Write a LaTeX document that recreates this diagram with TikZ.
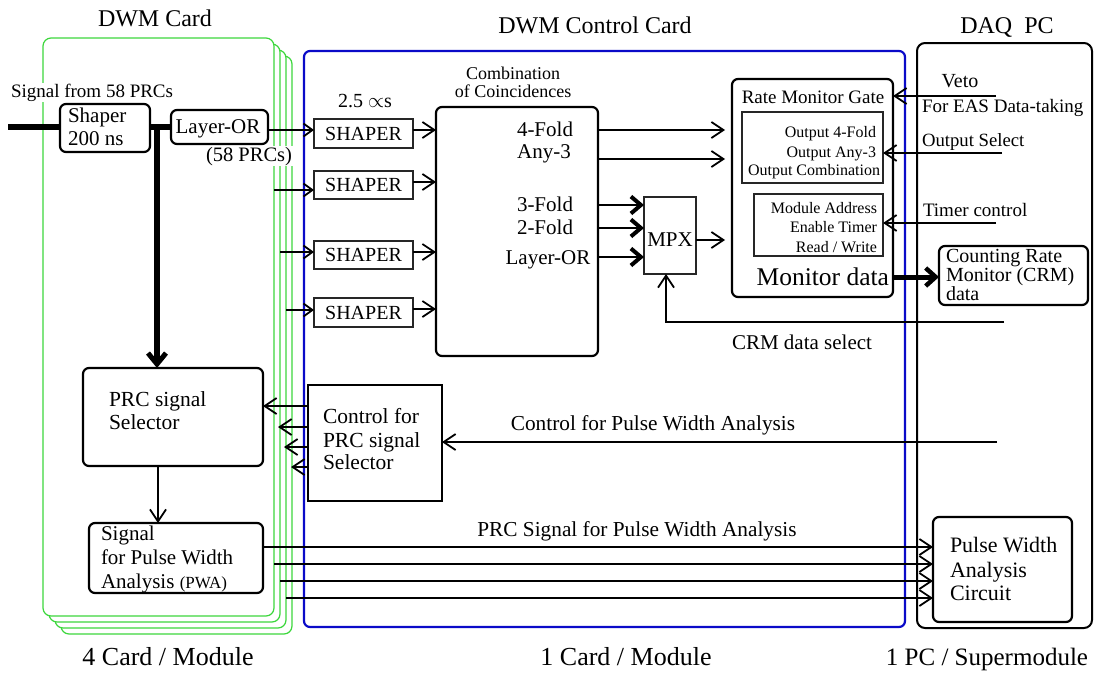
\documentclass[tikz,border=0pt]{standalone}
\usepackage{fontspec}
\setmainfont{Liberation Serif}
\usetikzlibrary{arrows.meta}
\definecolor{cardgreen}{RGB}{60,215,60}
\definecolor{ctlblue}{RGB}{10,10,200}
\newcommand\fsz[1]{\fontsize{#1}{#1}\selectfont}
% box macro: name, x1, y1, x2, y2, style
\newcommand\boxat[6]{\node[#6, anchor=north west, inner sep=0pt, outer sep=0pt,
  minimum width={#4-#2}, minimum height={#5-#3}] (#1) at (#2,#3) {};}
\tikzset{
  card/.style={draw=cardgreen, line width=1.2pt, fill=white, rounded corners=8pt},
  rbox/.style={draw=black, line width=2.2pt, rounded corners=6pt},
  sbox/.style={draw=black!85, line width=1.2pt},
  lbl/.style={inner sep=0pt, outer sep=0pt},
  ln/.style={line width=1.7pt},
  arr/.style={ln, -{Straight Barb[length=12pt,width=16pt,line width=1.8pt]}},
  sarr/.style={ln, -{Straight Barb[length=9pt,width=13pt,line width=1.8pt]}},
  tarr/.style={line width=2pt, -{Straight Barb[length=10pt,width=17pt,line width=4pt]}},
}
\begin{document}
\begin{tikzpicture}[x=1pt,y=-1pt]
\useasboundingbox (0,0) rectangle (1094,672);
% ---------- green DWM cards (stack) ----------
\boxat{card4}{61}{56}{292}{634}{card}
\boxat{card3}{55}{50}{286}{628}{card}
\boxat{card2}{49}{44}{280}{622}{card}
\boxat{card1}{43}{38}{274}{616}{card}
% ---------- blue control card ----------
\boxat{ctl}{304}{51}{905}{627}{draw=ctlblue, line width=2.2pt, rounded corners=6pt}
% ---------- DAQ PC ----------
\boxat{daq}{917}{43}{1092}{628}{draw=black, line width=2pt, rounded corners=8pt}
% ---------- titles ----------
\node[lbl, anchor=base, font=\fsz{24}] (tcard) at (155,26) {DWM Card};
\node[lbl, anchor=base, font=\fsz{24}] (tctl) at (595,33) {DWM Control Card};
\node[lbl, anchor=base, font=\fsz{24}] (tdaq) at (1007,33) {DAQ\ \ PC};
\node[lbl, anchor=base, font=\fsz{26}] (bcard) at (168,665) {4 Card / Module};
\node[lbl, anchor=base, font=\fsz{26}] (bctl) at (626,665) {1 Card / Module};
\node[lbl, anchor=base, font=\fsz{25}] (bdaq) at (987,665) {1 PC / Supermodule};
% ---------- DWM card contents ----------
\node[lbl, anchor=base west, font=\fsz{19}, fill=white, inner sep=1pt] (tsig) at (10,97) {Signal from 58 PRCs};
\coordinate (inL) at (8,127);
\draw[line width=6.5pt] (inL) -- (60,127);
\boxat{shp}{60}{104}{150}{152}{rbox, fill=white}
\node[lbl, anchor=base west, font=\fsz{21}] (tshp1) at (68,122) {Shaper};
\node[lbl, anchor=base west, font=\fsz{21}] (tshp2) at (68,145) {200 ns};
\boxat{lor}{171}{110}{268}{144}{rbox}
\node[lbl, anchor=base, font=\fsz{21}] (tlor) at (218,133) {Layer-OR};
\draw[line width=6.5pt] (shp.east |- 0,127) -- (lor.west |- 0,127);
\node[lbl, anchor=base, font=\fsz{20.5}, fill=white, inner sep=1pt] (t58) at (249,161) {(58 PRCs)};
\coordinate (jn) at (157,124);
\boxat{sel}{83}{368}{263}{466}{rbox}
\draw[line width=6pt, -{Straight Barb[length=11pt,width=18pt,line width=5pt]}] (jn) -- (jn |- sel.north);
\node[lbl, anchor=base west, font=\fsz{21.5}] (tsel1) at (109,406) {PRC signal};
\node[lbl, anchor=base west, font=\fsz{21.5}] (tsel2) at (109,429) {Selector};
\boxat{sig}{89}{523}{263}{593}{rbox}
\node[lbl, anchor=base west, font=\fsz{21}] (tsig1) at (101,540) {Signal};
\node[lbl, anchor=base west, font=\fsz{21}] (tsig2) at (101,564) {for Pulse Width};
\node[lbl, anchor=base west, font=\fsz{21}] (tsig3) at (101,588) {Analysis {\fsz{17}(PWA)}};
\draw[arr] (sel.south -| 158,0) -- (sig.north -| 158,0);
% ---------- control card contents ----------
\node[lbl, anchor=base west, font=\fsz{20}] (tmu) at (338,107) {2.5 $\propto$s};
\boxat{S1}{314}{119}{413}{148}{sbox}
\boxat{S2}{314}{171}{413}{199}{sbox}
\boxat{S3}{314}{241}{413}{269}{sbox}
\boxat{S4}{314}{298}{413}{327}{sbox}
\foreach \s in {S1,S2,S3,S4}{\node[lbl, font=\fsz{20}] (t\s) at (\s) {SHAPER};}
\boxat{comb}{436}{107}{598}{356}{rbox}
\node[lbl, anchor=base, font=\fsz{18}] (tcomb1) at (513,79) {Combination};
\node[lbl, anchor=base, font=\fsz{18}] (tcomb2) at (513,97) {of Coincidences};
\node[lbl, anchor=base, font=\fsz{21}] (tf4) at (545,136) {4-Fold};
\node[lbl, anchor=base, font=\fsz{21}] (ta3) at (544,158) {Any-3};
\node[lbl, anchor=base, font=\fsz{21}] (tf3) at (545,211) {3-Fold};
\node[lbl, anchor=base, font=\fsz{21}] (tf2) at (545,234) {2-Fold};
\node[lbl, anchor=base, font=\fsz{21}] (tlo) at (548,264) {Layer-OR};
\boxat{mpx}{644}{197}{696}{274}{sbox}
\node[lbl, anchor=base, font=\fsz{21}] (tmpx) at (670,246) {MPX};
% rate monitor gate
\boxat{rmg}{732}{79}{893}{297}{rbox}
\node[lbl, anchor=base, font=\fsz{19}] (trmg) at (813,103) {Rate Monitor Gate};
\boxat{in1}{742}{112}{883}{183}{sbox}
\node[lbl, anchor=base east, font=\fsz{16}] (to1) at (876,137) {Output 4-Fold};
\node[lbl, anchor=base east, font=\fsz{16}] (to2) at (876,157) {Output Any-3};
\node[lbl, anchor=base east, font=\fsz{16}] (to3) at (880,175) {Output Combination};
\boxat{in2}{754}{194}{883}{256}{sbox}
\node[lbl, anchor=base east, font=\fsz{16}] (tm1) at (877,213) {Module Address};
\node[lbl, anchor=base east, font=\fsz{16}] (tm2) at (877,232) {Enable Timer};
\node[lbl, anchor=base east, font=\fsz{16}] (tm3) at (877,252) {Read / Write};
\node[lbl, anchor=base east, font=\fsz{25.5}] (tmd) at (889,285) {Monitor data};
% control for PRC selector
\boxat{ctrl}{308}{385}{442}{501}{draw=black, line width=2pt}
\node[lbl, anchor=base west, font=\fsz{21.5}] (tc1) at (323,423) {Control for};
\node[lbl, anchor=base west, font=\fsz{21.5}] (tc2) at (323,447) {PRC signal};
\node[lbl, anchor=base west, font=\fsz{21.5}] (tc3) at (323,469) {Selector};
% ---------- DAQ contents ----------
\boxat{crm}{939}{246}{1088}{305}{rbox}
\node[lbl, anchor=base west, font=\fsz{20}] (tcrm1) at (946,262) {Counting Rate};
\node[lbl, anchor=base west, font=\fsz{20}] (tcrm2) at (946,281) {Monitor (CRM)};
\node[lbl, anchor=base west, font=\fsz{20}] (tcrm3) at (946,300) {data};
\boxat{pwa}{933}{517}{1072}{622}{rbox}
\node[lbl, anchor=base west, font=\fsz{22}] (tp1) at (950,552) {Pulse Width};
\node[lbl, anchor=base west, font=\fsz{22}] (tp2) at (950,577) {Analysis};
\node[lbl, anchor=base west, font=\fsz{22}] (tp3) at (950,600) {Circuit};
\node[lbl, anchor=base, font=\fsz{20}] (tveto) at (960,87) {Veto};
\node[lbl, anchor=base west, font=\fsz{19}] (teas) at (922,112) {For EAS Data-taking};
\node[lbl, anchor=base west, font=\fsz{18.7}] (tosel) at (922,146) {Output Select};
\node[lbl, anchor=base west, font=\fsz{19}] (ttim) at (923,216) {Timer control};
\node[lbl, anchor=base, font=\fsz{21}] (tcrmsel) at (802,349) {CRM data select};
\node[lbl, anchor=base, font=\fsz{21.3}] (tcpwa) at (653,430) {Control for Pulse Width Analysis};
\node[lbl, anchor=base, font=\fsz{21.3}] (tppwa) at (637,536) {PRC Signal for Pulse Width Analysis};
% ---------- connectors ----------
% to shapers
\coordinate (c2) at (274,190);
\coordinate (c3) at (280,252);
\coordinate (c4) at (286,310);
\draw[sarr] (lor.east |- 0,130) -- (S1.west |- 0,130);
\draw[sarr] (c2) -- (S2.west |- c2);
\draw[sarr] (c3) -- (S3.west |- c3);
\draw[sarr] (c4) -- (S4.west |- c4);
% shapers to combination
\draw[arr] (S1.east |- 0,130) -- (comb.west |- 0,130);
\draw[arr] (S2.east |- 0,182) -- (comb.west |- 0,182);
\draw[arr] (S3.east |- 0,252) -- (comb.west |- 0,252);
\draw[arr] (S4.east |- 0,309) -- (comb.west |- 0,309);
% combination outputs
\draw[arr, shorten >=7pt] (comb.east |- 0,130) -- (rmg.west |- 0,130);
\draw[arr, shorten >=7pt] (comb.east |- 0,159) -- (rmg.west |- 0,159);
\draw[tarr] (comb.east |- 0,205) -- (mpx.west |- 0,205);
\draw[tarr] (comb.east |- 0,228) -- (mpx.west |- 0,228);
\draw[tarr] (comb.east |- 0,257) -- (mpx.west |- 0,257);
\draw[arr, shorten >=7pt] (mpx.east |- 0,240) -- (rmg.west |- 0,240);
% CRM data select
\coordinate (crmsel) at (1004,322);
\draw[arr] (crmsel) -| (mpx.south -| 666,0);
% DAQ inputs
\coordinate (veto) at (996,96);
\coordinate (osel) at (1002,153);
\coordinate (tim) at (996,223);
\draw[arr] (veto) -- (rmg.east |- veto);
\draw[arr] (osel) -- (in1.east |- osel);
\draw[arr] (tim) -- (in2.east |- tim);
\draw[line width=5pt, -{Straight Barb[length=10pt,width=18pt,line width=4.5pt]}] (rmg.east |- 0,277) -- (crm.west |- 0,277);
% control for PWA
\coordinate (cpwa) at (997,442);
\draw[arr] (cpwa) -- (ctrl.east |- cpwa);
% control to selectors
\coordinate (k2) at (278,427);
\coordinate (k3) at (284,447);
\coordinate (k4) at (291,467);
\draw[arr] (ctrl.west |- 0,406) -- (sel.east |- 0,406);
\draw[arr] (ctrl.west |- k2) -- (k2);
\draw[arr] (ctrl.west |- k3) -- (k3);
\draw[arr] (ctrl.west |- k4) -- (k4);
% PWA signals
\coordinate (p2) at (274,564);
\coordinate (p3) at (280,581);
\coordinate (p4) at (286,598);
\draw[arr] (sig.east |- 0,547) -- (pwa.west |- 0,547);
\draw[arr] (p2) -- (pwa.west |- p2);
\draw[arr] (p3) -- (pwa.west |- p3);
\draw[arr] (p4) -- (pwa.west |- p4);
\end{tikzpicture}
\end{document}
